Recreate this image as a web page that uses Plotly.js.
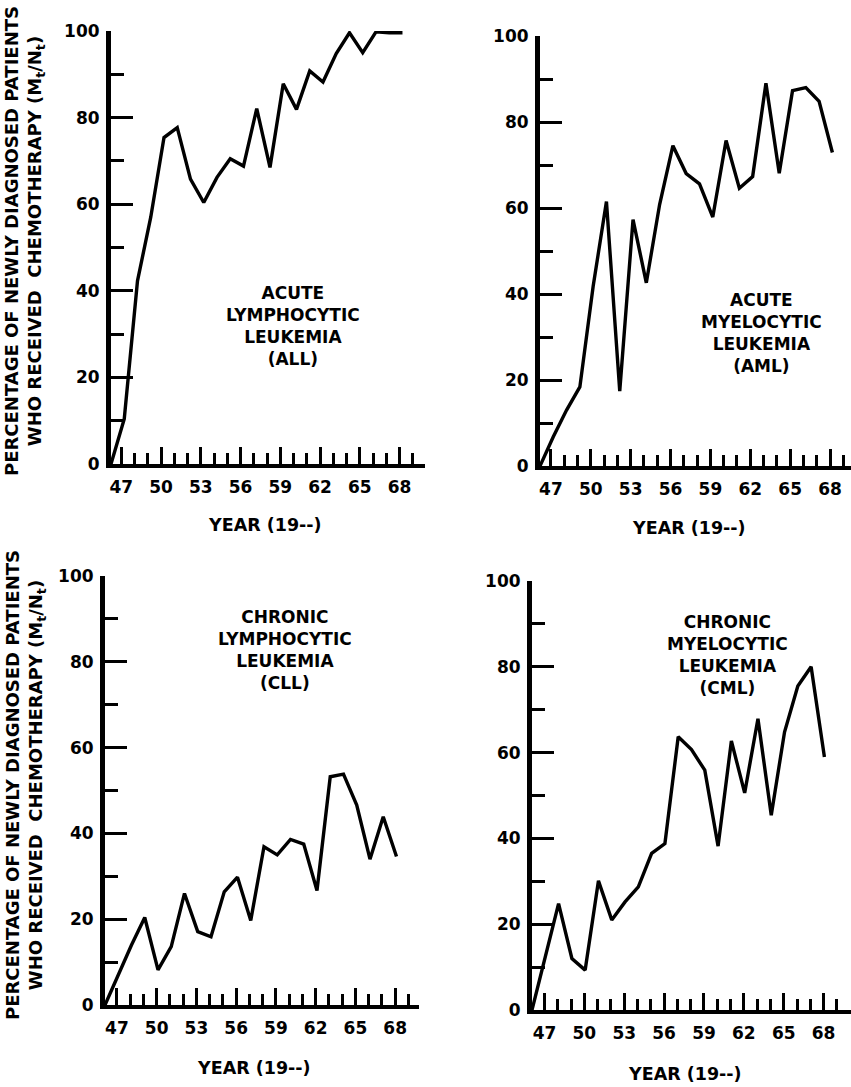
<!DOCTYPE html>
<html><head><meta charset="utf-8">
<script src="https://cdn.plot.ly/plotly-3.0.1.min.js"></script>
<style>html,body{margin:0;padding:0;background:#fff}</style>
</head><body><div id="chart" style="width:851px;height:1087px"></div>
<script>
// ---- data (year 19xx, percentage receiving chemotherapy) ----
const years  = [46,47,48,49,50,51,52,53,54,55,56,57,58,59,60,61,62,63,64,65,66,67,68];
const allPct = [0,10.4,42.3,57,75.4,77.7,65.8,60.4,66.2,70.5,68.8,82.1,68.5,87.8,81.9,90.8,88.2,94.8,99.6,95.0,99.8,99.6,99.6];
const amlPct = [0,6.8,13.0,18.4,41.8,61.5,17.4,57.3,42.6,60.8,74.5,68.0,65.6,57.9,75.7,64.6,67.3,89.0,68.1,87.3,88.0,84.8,72.9];
const cllPct = [0,7,14,20.4,8.2,13.6,26.0,17.1,15.9,26.4,29.8,19.7,36.9,35.0,38.6,37.5,26.7,53.2,53.8,46.6,34.0,43.9,34.6];
const cmlPct = [0,12.5,24.8,12.0,9.3,30.1,21.0,25.2,28.7,36.5,38.8,63.7,60.7,55.9,38.2,62.7,50.6,67.9,45.4,64.8,75.5,80.0,59.0];
const tickYears = [47,50,53,56,59,62,65,68];
const panelLabels = [
  'ACUTE<br>LYMPHOCYTIC<br>LEUKEMIA<br>(ALL)',
  'ACUTE<br>MYELOCYTIC<br>LEUKEMIA<br>(AML)',
  'CHRONIC<br>LYMPHOCYTIC<br>LEUKEMIA<br>(CLL)',
  'CHRONIC<br>MYELOCYTIC<br>LEUKEMIA<br>(CML)'
];
const yTitle = 'PERCENTAGE OF NEWLY DIAGNOSED PATIENTS<br>WHO RECEIVED  CHEMOTHERAPY (M<sub>t</sub>/N<sub>t</sub>)';
const xTitle = 'YEAR (19--)';

// ---- layout (positions/styles) ----
const W = 851, H = 1087;
const FONT = 'DejaVu Sans';
const series = [allPct, amlPct, cllPct, cmlPct];
const geom = [
  {left:111, right:425, top:31,  bottom:464,  xmax:69.7, off:0.22, lab:[59.7,31.9], xt:[265,525]},
  {left:540, right:851, top:36,  bottom:466,  xmax:69.4, off:0.18, lab:[62.65,30.9], xt:[689,528]},
  {left:105, right:419, top:576, bottom:1005, xmax:69.7, off:0.1,  lab:[59.6,82.7], xt:[254,1068]},
  {left:532, right:851, top:581, bottom:1010, xmax:70.0, off:0.06, lab:[60.7,82.7], xt:[685,1074]}
];

const layout = {
  width: W, height: H,
  margin: {l:0, r:0, t:0, b:0},
  paper_bgcolor: '#fff', plot_bgcolor: '#fff',
  showlegend: false,
  font: {family: FONT, color: '#000'},
  annotations: []
};
const traces = [];
geom.forEach((g, i) => {
  const n = i === 0 ? '' : String(i + 1);
  layout['xaxis' + n] = {
    domain: [g.left / W, g.right / W], range: [46, g.xmax], anchor: 'y' + n,
    showline: true, linewidth: 4, linecolor: '#000',
    showgrid: false, zeroline: false,
    ticks: 'inside', ticklen: 17, tickwidth: 3, tickcolor: '#000',
    tickmode: 'array', tickvals: tickYears.map(t => t - g.off), ticktext: tickYears.map(String),
    minor: {ticks: 'inside', ticklen: 11, tickwidth: 3, tickcolor: '#000', tickmode: 'linear', tick0: 47 - g.off, dtick: 1, showgrid: false},
    tickfont: {family: FONT, size: 17, weight: 'bold', color: '#000'},
    ticklabelstandoff: 5, fixedrange: true
  };
  layout['yaxis' + n] = {
    domain: [1 - g.bottom / H, 1 - g.top / H], range: [0, 100], anchor: 'x' + n,
    showline: true, linewidth: 5, linecolor: '#000',
    showgrid: false, zeroline: false,
    ticks: 'inside', ticklen: 22, tickwidth: 3, tickcolor: '#000',
    tickmode: 'linear', tick0: 0, dtick: 20,
    minor: {ticks: 'inside', ticklen: 13, tickwidth: 3, tickcolor: '#000', tickmode: 'linear', tick0: 0, dtick: 10, showgrid: false},
    tickfont: {family: FONT, size: 17, weight: 'bold', color: '#000'},
    ticklabelstandoff: 3, fixedrange: true
  };
  traces.push({
    type: 'scatter', mode: 'lines', x: years, y: series[i],
    xaxis: 'x' + n, yaxis: 'y' + n,
    line: {color: '#000', width: 3.4}, hoverinfo: 'skip'
  });
  layout.annotations.push({
    xref: 'x' + n, yref: 'y' + n, x: g.lab[0], y: g.lab[1],
    text: panelLabels[i], showarrow: false, align: 'center',
    xanchor: 'center', yanchor: 'middle',
    font: {family: FONT, size: 17, weight: 'bold', color: '#000'}
  });
  layout.annotations.push({
    xref: 'paper', yref: 'paper', x: g.xt[0] / W, y: 1 - g.xt[1] / H,
    text: xTitle, showarrow: false, xanchor: 'center', yanchor: 'middle',
    font: {family: FONT, size: 17.5, weight: 'bold', color: '#000'}
  });
});
[241, 785].forEach(cy => {
  layout.annotations.push({
    xref: 'paper', yref: 'paper', x: 25 / W, y: 1 - cy / H,
    text: yTitle, showarrow: false, textangle: -90, align: 'center',
    xanchor: 'center', yanchor: 'middle',
    font: {family: FONT, size: 18, weight: 'bold', color: '#000'}
  });
});

Plotly.newPlot('chart', traces, layout, {staticPlot: true, displayModeBar: false});
</script>
</body></html>
